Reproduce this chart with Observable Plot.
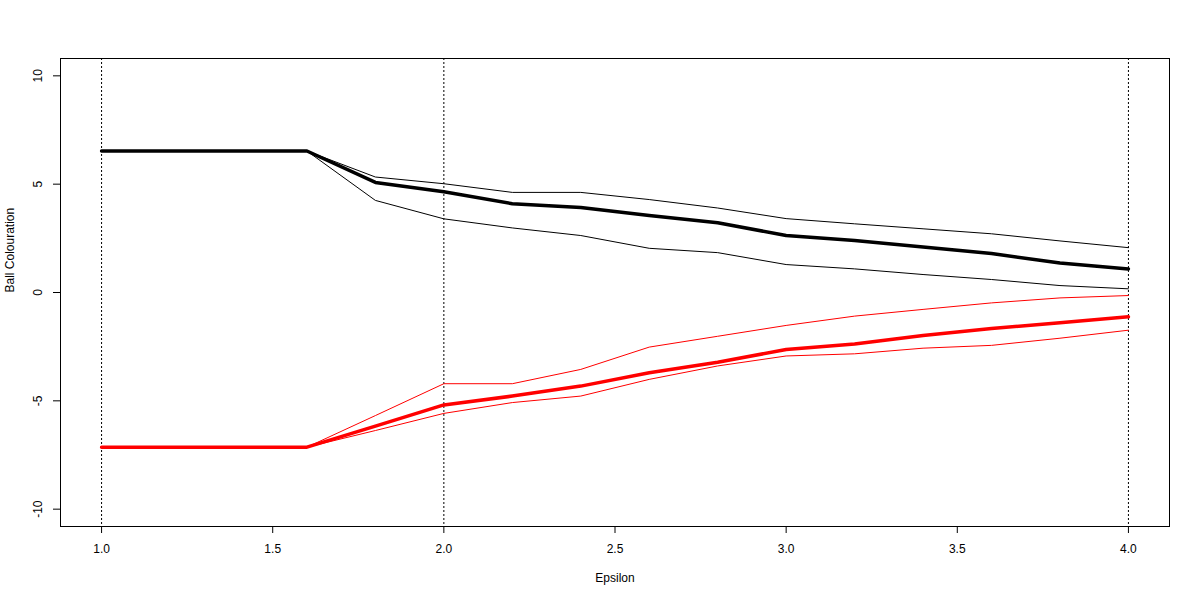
<!DOCTYPE html>
<html>
<head>
<meta charset="utf-8">
<script src="https://cdn.jsdelivr.net/npm/d3@7"></script>
<script src="https://cdn.jsdelivr.net/npm/@observablehq/plot@0.6"></script>
<style>
  html, body { margin: 0; padding: 0; background: #fff; }
  #chart svg { display: block; }
</style>
</head>
<body>
<div id="chart"></div>
<script>
const epsilon = [1.0, 1.2, 1.4, 1.6, 1.8, 2.0, 2.2, 2.4, 2.6, 2.8, 3.0, 3.2, 3.4, 3.6, 3.8, 4.0];

const blackMean  = [6.53, 6.53, 6.53, 6.53, 5.08, 4.65, 4.10, 3.92, 3.55, 3.22, 2.63, 2.40, 2.10, 1.80, 1.36, 1.09];
const blackUpper = [6.53, 6.53, 6.53, 6.53, 5.33, 5.02, 4.62, 4.62, 4.29, 3.90, 3.41, 3.17, 2.94, 2.71, 2.38, 2.07];
const blackLower = [6.53, 6.53, 6.53, 6.53, 4.25, 3.40, 2.98, 2.63, 2.04, 1.84, 1.29, 1.09, 0.83, 0.60, 0.32, 0.17];

const redMean  = [-7.14, -7.14, -7.14, -7.14, -6.17, -5.19, -4.78, -4.32, -3.70, -3.22, -2.63, -2.38, -1.98, -1.66, -1.40, -1.12];
const redUpper = [-7.14, -7.14, -7.14, -7.14, -5.68, -4.21, -4.21, -3.55, -2.52, -2.02, -1.52, -1.09, -0.78, -0.48, -0.25, -0.14];
const redLower = [-7.14, -7.14, -7.14, -7.14, -6.37, -5.58, -5.08, -4.78, -4.01, -3.39, -2.93, -2.83, -2.57, -2.44, -2.11, -1.74];

const xTicks = [1.0, 1.5, 2.0, 2.5, 3.0, 3.5, 4.0];
const yTicks = [-10, -5, 0, 5, 10];
const vLines = [1.0, 2.0, 4.0];

const toRows = (ys) => epsilon.map((x, i) => ({x, y: ys[i]}));

const font = "'Liberation Sans', Arial, sans-serif";

const chart = Plot.plot({
  width: 1200,
  height: 600,
  marginLeft: 60,
  marginRight: 31,
  marginTop: 58,
  marginBottom: 74,
  style: {fontFamily: font, fontSize: "12px", background: "#fff", color: "black"},
  x: {domain: [0.88, 4.12]},
  y: {domain: [-10.8, 10.8]},
  marks: [
    Plot.ruleX(vLines, {stroke: "black", strokeWidth: 1, strokeDasharray: "2,2"}),
    Plot.line(toRows(blackUpper), {x: "x", y: "y", stroke: "black", strokeWidth: 1}),
    Plot.line(toRows(blackLower), {x: "x", y: "y", stroke: "black", strokeWidth: 1}),
    Plot.line(toRows(blackMean), {x: "x", y: "y", stroke: "black", strokeWidth: 3.5}),
    Plot.line(toRows(redUpper), {x: "x", y: "y", stroke: "red", strokeWidth: 1}),
    Plot.line(toRows(redLower), {x: "x", y: "y", stroke: "red", strokeWidth: 1}),
    Plot.line(toRows(redMean), {x: "x", y: "y", stroke: "red", strokeWidth: 3.5}),
    Plot.frame({stroke: "black", strokeWidth: 1}),
    Plot.axisX({ticks: xTicks, tickSize: 7, tickPadding: 11, tickFormat: d3.format(".1f"), label: null, fontSize: 12}),
    Plot.axisY({ticks: yTicks, tickSize: 7, tickFormat: () => "", label: null}),
    Plot.text(yTicks, {y: (d) => d, text: (d) => String(d), frameAnchor: "left", dx: -22, rotate: -90, textAnchor: "middle", fontSize: 12}),
    Plot.text(["Epsilon"], {frameAnchor: "bottom", dy: 55, text: (d) => d, fontSize: 12}),
    Plot.text(["Ball Colouration"], {frameAnchor: "left", dx: -50, rotate: -90, text: (d) => d, fontSize: 12})
  ]
});

document.getElementById("chart").appendChild(chart);
</script>
</body>
</html>
